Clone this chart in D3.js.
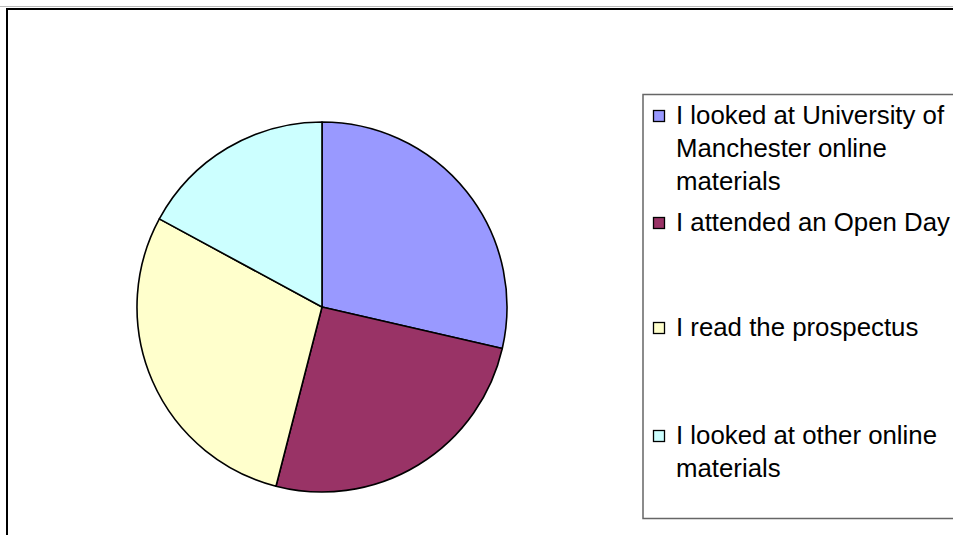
<!DOCTYPE html>
<html>
<head>
<meta charset="utf-8">
<script src="https://cdn.jsdelivr.net/npm/d3@7"></script>
<style>
  html, body { margin: 0; padding: 0; background: #fff; }
  svg { display: block; }
</style>
</head>
<body>
<script>
const categories = [
  "I looked at University of Manchester online materials",
  "I attended an Open Day",
  "I read the prospectus",
  "I looked at other online materials"
];
const values = [28.6, 25.4, 28.9, 17.1];
const colors = ["#9999FF", "#993366", "#FFFFCC", "#CCFFFF"];
const legendLines = [
  ["I looked at University of", "Manchester online", "materials"],
  ["I attended an Open Day"],
  ["I read the prospectus"],
  ["I looked at other online", "materials"]
];

const W = 953, H = 535;
const svg = d3.select("body").append("svg").attr("width", W).attr("height", H);

// page edge + outer frame
svg.append("line").attr("x1", 0).attr("x2", W).attr("y1", 6.5).attr("y2", 6.5)
  .attr("stroke", "#bbbbbb").attr("stroke-width", 1);
svg.append("rect").attr("x", 7).attr("y", 9).attr("width", W + 20).attr("height", H + 20)
  .attr("fill", "none").attr("stroke", "#000").attr("stroke-width", 2);

// pie
const cx = 322, cy = 307, r = 185;
const pie = d3.pie().sort(null).value(d => d);
const arc = d3.arc().innerRadius(0).outerRadius(r);
const g = svg.append("g").attr("transform", `translate(${cx},${cy})`);
g.selectAll("path").data(pie(values)).enter().append("path")
  .attr("d", arc)
  .attr("fill", (d, i) => colors[i])
  .attr("stroke", "#000")
  .attr("stroke-width", 1.6)
  .attr("stroke-linejoin", "round");

// legend
svg.append("rect").attr("x", 643).attr("y", 94.5).attr("width", 400).attr("height", 424)
  .attr("fill", "#fff").attr("stroke", "#666").attr("stroke-width", 1.5);

const baselines = [[124, 157, 190], [231], [336], [444, 476.5]];
const legend = svg.append("g");
categories.forEach((c, i) => {
  const b0 = baselines[i][0];
  legend.append("rect").attr("x", 653.5).attr("y", b0 - 13.5).attr("width", 11).attr("height", 11)
    .attr("fill", colors[i]).attr("stroke", "#000").attr("stroke-width", 1.3);
  const t = legend.append("text").attr("x", 676)
    .attr("font-family", "'Liberation Sans', Arial, sans-serif")
    .attr("font-size", 25.8).attr("fill", "#000");
  legendLines[i].forEach((ln, j) => {
    t.append("tspan").attr("x", 676).attr("y", baselines[i][j]).text(ln);
  });
});
</script>
</body>
</html>
